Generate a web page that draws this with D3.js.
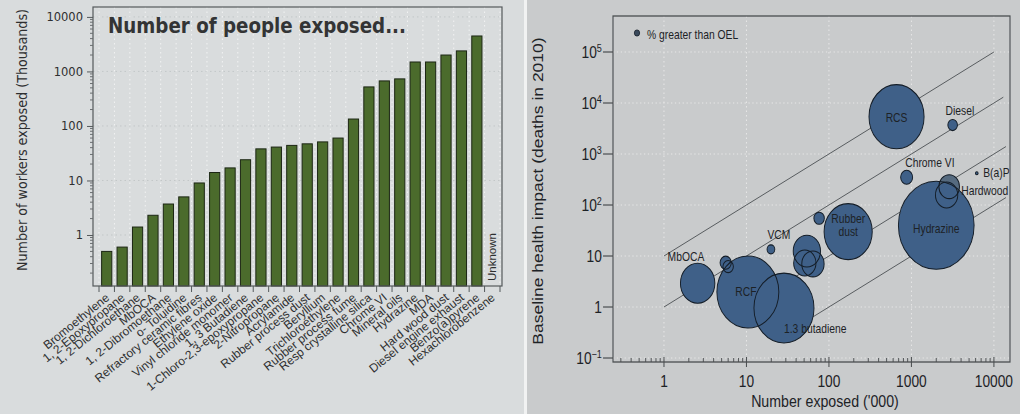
<!DOCTYPE html>
<html>
<head>
<meta charset="utf-8">
<script src="https://cdn.jsdelivr.net/npm/d3@7"></script>
<style>
  html, body { margin: 0; padding: 0; background: #d9dcdd; }
  svg { display: block; }
</style>
</head>
<body>
<svg id="chart" width="1020" height="414"></svg>
<script>
// ---------- Bar chart data: workers exposed per agent (thousands) ----------
const agents = [
  "Bromoethylene", "1, 2-Epoxypropane", "1, 2-Dichloroethane", "MbOCA",
  "1, 2-Dibromoethane", "o- Toluidine", "Refractory ceramic fibres", "Ethylene oxide",
  "Vinyl chloride monomer", "1, 3 Butadiene", "1-Chloro-2,3-epoxypropane", "2-Nitropropane",
  "Acrylamide", "Rubber process dust", "Beryllium", "Trichloroethylene",
  "Rubber process fume", "Resp crystalline silica", "Chrome VI", "Mineral oils",
  "Hydrazine", "MDA", "Hard wood dust", "Diesel engine exhaust",
  "Benzo(a)pyrene", "Hexachlorobenzene"
];
const workersExposed = [
  0.5, 0.6, 1.4, 2.3, 3.7, 5, 9, 14, 17, 24, 38, 41, 44,
  47, 51, 60, 134, 520, 670, 730, 1490, 1490, 2000, 2380, 4470, null
];
const barTickValues = [1, 10, 100, 1000, 10000];

// ---------- Bubble chart data ----------
const bubbleIds = [
  "RCS", "Diesel", "ChromeVI", "BaP", "Hydrazine", "Hardwood", "HardwoodRing",
  "RubberDust", "RubberDustSmall", "ClusterA", "ClusterB", "ClusterC",
  "MbOCA", "MbOCASmall", "MbOCARing", "VCM", "RCF", "Butadiene"
];
const bubbleExposed = [660, 3160, 875, 6200, 2000, 2870, 2670, 171, 76, 54, 51, 64, 2.56, 5.6, 6.0, 19.8, 10.4, 28.5];
const bubbleDeaths  = [5400, 3700, 350, 420, 40, 229, 157, 30, 55, 12.5, 7.3, 7.0, 2.92, 7.4, 6.2, 13.5, 1.97, 0.955];
const bubblePctOverOEL = [53, 1.6, 2.5, 0.12, 100, 7.4, 8.7, 40.5, 1.9, 13, 8.7, 8.7, 20.7, 2.2, 1.9, 1.05, 67, 63];
const legendPct = 0.5;

const riskRatios = [10, 1, 0.1, 0.01];
const riskLineFrom = [1, 1, 10, 60];
const riskLineTo = [10000, 13000, 14000, 14000];

const xTickValues = [1, 10, 100, 1000, 10000];
const yTickValues = [0.1, 1, 10, 100, 1000, 10000, 100000];
const yTickBases = ["10", "1", "10", "10", "10", "10", "10"];
const yTickExps  = ["\u22121", "", "", "2", "3", "4", "5"];

// Annotation text and its placement around each bubble (px offsets)
const bubbleText = {
  RCS:        [{ t: "RCS", dx: 0, dy: 5, a: "middle" }],
  Diesel:     [{ t: "Diesel", dx: 8.5, dy: -10, a: "middle" }],
  ChromeVI:   [{ t: "Chrome VI", dx: 27, dy: -10, a: "middle" }],
  BaP:        [{ t: "B(a)P", dx: 7.5, dy: 4, a: "start" }],
  Hardwood:   [{ t: "Hardwood", dx: 14, dy: 8.5, a: "start" }],
  Hydrazine:  [{ t: "Hydrazine", dx: 0, dy: 8, a: "middle" }],
  RubberDust: [{ t: "Rubber", dx: 0, dy: -8.5, a: "middle" }, { t: "dust", dx: 0, dy: 4.5, a: "middle" }],
  MbOCA:      [{ t: "MbOCA", dx: -13.6, dy: -22.5, a: "middle" }],
  VCM:        [{ t: "VCM", dx: 9.3, dy: -10, a: "middle" }],
  RCF:        [{ t: "RCF", dx: -2.3, dy: 4, a: "middle" }],
  Butadiene:  [{ t: "1.3 butadiene", dx: 0, dy: 24.5, a: "start" }]
};

// ---------- Drawing ----------
const W = 1020, H = 414;
const svg = d3.select("#chart");
const INK = "#2e2f30";

svg.append("rect").attr("x", 0).attr("y", 0).attr("width", 524).attr("height", H).attr("fill", "#d9dcdd");
svg.append("rect").attr("x", 527).attr("y", 0).attr("width", W - 527).attr("height", H).attr("fill", "#c9cbcc");
svg.append("rect").attr("x", 524).attr("y", 0).attr("width", 3).attr("height", H).attr("fill", "#f1f2f2");

// ===== Left panel: bar chart on a log axis =====
const L = { left: 93, right: 502, top: 7, bottom: 286 };
const left = svg.append("g").attr("font-family", "'Liberation Sans', Arial, sans-serif");

const xBand = d3.scaleBand().domain(agents).range([99, 500]).paddingInner(0.34).paddingOuter(0.17);
const yL = d3.scaleLog().domain([0.116, 15200]).range([L.bottom, L.top]);
const step = xBand.step();
const slotEdges = d3.range(agents.length + 1).map(i => xBand.range()[0] + i * step);

// dotted grid
left.append("g").selectAll("line.h").data(barTickValues).join("line")
  .attr("x1", L.left).attr("x2", L.right)
  .attr("y1", d => yL(d)).attr("y2", d => yL(d))
  .attr("stroke", "#c3c7c8").attr("stroke-width", 1).attr("stroke-dasharray", "1.5,3");
left.append("g").selectAll("line.v").data(slotEdges).join("line")
  .attr("x1", d => d).attr("x2", d => d)
  .attr("y1", L.top).attr("y2", L.bottom)
  .attr("stroke", "#f2f3f3").attr("stroke-width", 1).attr("stroke-dasharray", "1.5,3");

// bars
const barData = agents.map((a, i) => ({ a, v: workersExposed[i] }));
left.append("g").selectAll("rect").data(barData.filter(d => d.v != null)).join("rect")
  .attr("x", d => xBand(d.a))
  .attr("width", xBand.bandwidth())
  .attr("y", d => yL(d.v))
  .attr("height", d => L.bottom - yL(d.v))
  .attr("fill", "#4b6b2c").attr("stroke", "#1c2614").attr("stroke-width", 1);

// "Unknown" entries
left.append("g").selectAll("text").data(barData.filter(d => d.v == null)).join("text")
  .attr("transform", d => `translate(${xBand(d.a) + xBand.bandwidth() / 2},${L.bottom - 5}) rotate(-90)`)
  .attr("dy", "0.35em").attr("font-size", 11.5).attr("fill", INK).text("Unknown");

// frame
left.append("rect").attr("x", L.left).attr("y", L.top)
  .attr("width", L.right - L.left).attr("height", L.bottom - L.top)
  .attr("fill", "none").attr("stroke", "#555a5c").attr("stroke-width", 1.2);

// y axis with minor ticks
const yAxisL = left.append("g").attr("transform", `translate(${L.left},0)`)
  .call(d3.axisLeft(yL).tickValues(barTickValues).tickFormat(d3.format("d")).tickSize(6).tickPadding(4));
yAxisL.select(".domain").remove();
yAxisL.selectAll("line").attr("stroke", "#555a5c");
yAxisL.selectAll("text").attr("font-family", "'DejaVu Sans', Verdana, sans-serif")
  .attr("font-size", 11.5).attr("fill", INK);
const minorL = [];
for (let e = -1; e <= 3; e++) for (let m = 2; m <= 9; m++) {
  const v = m * Math.pow(10, e);
  if (v > yL.domain()[0] && v < yL.domain()[1]) minorL.push(v);
}
left.append("g").selectAll("line").data(minorL).join("line")
  .attr("x1", L.left - 3).attr("x2", L.left)
  .attr("y1", d => yL(d)).attr("y2", d => yL(d))
  .attr("stroke", "#6a6e70").attr("stroke-width", 1);

// x ticks at slot edges
left.append("g").selectAll("line").data(slotEdges).join("line")
  .attr("x1", d => d).attr("x2", d => d)
  .attr("y1", L.bottom).attr("y2", L.bottom + 6)
  .attr("stroke", "#555a5c").attr("stroke-width", 1);

// rotated category labels
left.append("g").selectAll("text").data(agents).join("text")
  .attr("transform", d => `translate(${xBand(d) + xBand.bandwidth() / 2 + 3.5},299) rotate(-39)`)
  .attr("text-anchor", "end").attr("font-size", 12).attr("fill", INK)
  .text(d => d);

// title and axis title
left.append("text").attr("transform", "translate(108,33) scale(0.87,1)")
  .attr("font-family", "'DejaVu Sans', Verdana, sans-serif").attr("font-weight", "bold")
  .attr("font-size", 21).attr("fill", "#333435")
  .text("Number of people exposed...");
left.append("text")
  .attr("transform", "translate(27,140) rotate(-90) scale(0.91,1)")
  .attr("text-anchor", "middle")
  .attr("font-family", "'DejaVu Sans', Verdana, sans-serif")
  .attr("font-size", 14).attr("fill", INK)
  .text("Number of workers exposed (Thousands)");

// ===== Right panel: baseline health impact vs number exposed =====
const R0 = 613, SX = 0.86;
const RW = (1010 - R0) / SX;
const RT = 16, RB = 362;
const right = svg.append("g")
  .attr("transform", `translate(${R0},0) scale(${SX},1)`)
  .attr("font-family", "'Liberation Sans', Arial, sans-serif");

const xR = d3.scaleLog().domain([0.241, 15670]).range([0, RW]);
const yR = d3.scaleLog().domain([0.0835, 508000]).range([RB, RT]);
const rScale = d3.scaleSqrt().domain([0, 100]).range([0, 44]);

right.append("defs").append("clipPath").attr("id", "plotClip")
  .append("rect").attr("x", 0).attr("y", RT).attr("width", RW).attr("height", RB - RT);

// dotted grid
right.append("g").selectAll("line").data(xTickValues).join("line")
  .attr("x1", d => xR(d)).attr("x2", d => xR(d)).attr("y1", RT).attr("y2", RB)
  .attr("stroke", "#e9eaea").attr("stroke-width", 1).attr("stroke-dasharray", "1.5,3");
right.append("g").selectAll("line").data(yTickValues).join("line")
  .attr("x1", 0).attr("x2", RW).attr("y1", d => yR(d)).attr("y2", d => yR(d))
  .attr("stroke", "#e9eaea").attr("stroke-width", 1).attr("stroke-dasharray", "1.5,3");

// constant-ratio reference lines
const riskData = riskRatios.map((k, i) => ({ k, from: riskLineFrom[i], to: riskLineTo[i] }));
right.append("g").attr("clip-path", "url(#plotClip)")
  .selectAll("line").data(riskData).join("line")
  .attr("x1", d => xR(d.from)).attr("y1", d => yR(d.from * d.k))
  .attr("x2", d => xR(d.to)).attr("y2", d => yR(d.to * d.k))
  .attr("stroke", "#505457").attr("stroke-width", 1);

// bubbles: fills first, outlines on top so overlaps stay readable
const bubbles = bubbleIds.map((id, i) => ({
  id, x: bubbleExposed[i], y: bubbleDeaths[i], p: bubblePctOverOEL[i]
}));
const drawOrder = bubbles.slice().sort((a, b) => {
  const rank = d => (d.id === "Hardwood" || d.id === "HardwoodRing") ? 1 : 0;
  return rank(a) - rank(b);
});
const lighter = new Set(["Hardwood"]);
right.append("g").selectAll("circle").data(drawOrder).join("circle")
  .attr("cx", d => xR(d.x)).attr("cy", d => yR(d.y)).attr("r", d => rScale(d.p))
  .attr("fill", d => lighter.has(d.id) ? "#566b80" : "#3f6088");
right.append("g").selectAll("circle").data(drawOrder).join("circle")
  .attr("cx", d => xR(d.x)).attr("cy", d => yR(d.y)).attr("r", d => rScale(d.p))
  .attr("fill", "none").attr("stroke", "#141d27").attr("stroke-width", 1.1);

// annotations
const notes = [];
bubbles.forEach(b => (bubbleText[b.id] || []).forEach(n => notes.push({ b, n })));
right.append("g").selectAll("text").data(notes).join("text")
  .attr("x", d => xR(d.b.x) + d.n.dx)
  .attr("y", d => yR(d.b.y) + d.n.dy)
  .attr("text-anchor", d => d.n.a)
  .attr("font-size", 12).attr("fill", "#1d2226")
  .text(d => d.n.t);

// legend
right.append("circle").attr("cx", (637 - R0) / SX).attr("cy", 33).attr("r", rScale(legendPct))
  .attr("fill", "#3a4a5c").attr("stroke", "#141d27").attr("stroke-width", 0.8);
right.append("text").attr("x", (647 - R0) / SX).attr("y", 39)
  .attr("font-size", 12).attr("fill", "#1d2226").text("% greater than OEL");

// frame
right.append("rect").attr("x", 0).attr("y", RT).attr("width", RW).attr("height", RB - RT)
  .attr("fill", "none").attr("stroke", "#4a4e50").attr("stroke-width", 1.3);

// x axis: major ticks outward, minor ticks inward
right.append("g").selectAll("line").data(xTickValues).join("line")
  .attr("x1", d => xR(d)).attr("x2", d => xR(d)).attr("y1", RB - 5).attr("y2", RB + 5)
  .attr("stroke", "#4a4e50").attr("stroke-width", 1.2);
const minorX = [];
for (let e = -1; e <= 4; e++) for (let m = 2; m <= 9; m++) {
  const v = m * Math.pow(10, e);
  if (v > xR.domain()[0] && v < xR.domain()[1]) minorX.push(v);
}
right.append("g").selectAll("line").data(minorX).join("line")
  .attr("x1", d => xR(d)).attr("x2", d => xR(d)).attr("y1", RB - 4).attr("y2", RB)
  .attr("stroke", "#4a4e50").attr("stroke-width", 1);
right.append("g").selectAll("text").data(xTickValues).join("text")
  .attr("x", d => xR(d)).attr("y", RB + 25)
  .attr("text-anchor", "middle").attr("font-size", 16).attr("fill", "#1d2226")
  .text(d => d3.format("d")(d));

// y axis with power-of-ten labels
right.append("g").selectAll("line").data(yTickValues).join("line")
  .attr("x1", -11.6).attr("x2", 0).attr("y1", d => yR(d)).attr("y2", d => yR(d))
  .attr("stroke", "#4a4e50").attr("stroke-width", 1.2);
const yLab = right.append("g").selectAll("text").data(yTickValues.map((v, i) => ({ v, i }))).join("text")
  .attr("x", -13).attr("y", d => yR(d.v)).attr("dy", "0.35em")
  .attr("text-anchor", "end").attr("font-size", 16).attr("fill", "#1d2226");
yLab.append("tspan").text(d => yTickBases[d.i]);
yLab.append("tspan").attr("dy", "-0.55em").attr("font-size", 10.5).text(d => yTickExps[d.i]);

// axis titles
right.append("text").attr("x", (825 - R0) / SX).attr("y", 407)
  .attr("text-anchor", "middle").attr("font-size", 16.5).attr("fill", "#1d2226")
  .text("Number exposed ('000)");
right.append("text")
  .attr("transform", `translate(${(543 - R0) / SX},191) rotate(-90)`)
  .attr("text-anchor", "middle").attr("font-size", 17.5).attr("fill", "#1d2226")
  .text("Baseline health impact (deaths in 2010)");
</script>
</body>
</html>
